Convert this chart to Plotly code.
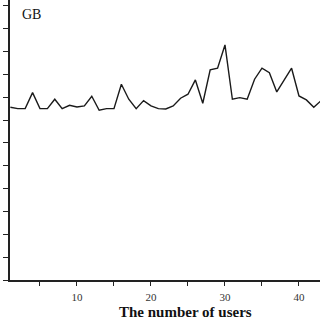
import plotly.graph_objects as go

users = list(range(1, 44))
gb_pix = [107.3, 108.7, 108.7, 92.7, 108.7, 108.7, 99.3, 108.7, 105.3, 107.0,
          106.0, 96.3, 110.3, 108.7, 108.7, 84.3, 99.3, 108.7, 100.7, 106.0,
          108.7, 109.0, 106.0, 98.3, 94.3, 80.0, 103.3, 70.0, 68.3, 45.0,
          99.3, 97.7, 99.3, 79.3, 68.3, 72.7, 92.0, 80.0, 68.3, 96.0,
          100.0, 107.3, 100.7]
# values in axis units (12 intervals on the y axis)
gb = [round((280 - p) / 22.83, 3) for p in gb_pix]

x_ticks = [10, 20, 30, 40]

fig = go.Figure()
fig.add_trace(go.Scatter(x=users, y=gb, mode="lines",
                         line=dict(color="#1a1a1a", width=1.4),
                         showlegend=False, cliponaxis=True))

fig.update_layout(
    width=320, height=320,
    margin=dict(l=10, r=0, t=0, b=40),
    paper_bgcolor="white", plot_bgcolor="white",
    font=dict(family="Liberation Serif, Times New Roman, serif", color="#222"),
    xaxis=dict(range=[0.95, 42.84], tickvals=x_ticks, ticks="outside", ticklen=4,
               tickwidth=1.2, tickcolor="#222",
               minor=dict(tickvals=[5, 15, 25, 35], ticks="outside", ticklen=4,
                          tickwidth=1.2, tickcolor="#222"),
               showline=True, linecolor="#222", linewidth=1.5,
               showgrid=False, zeroline=False,
               tickfont=dict(size=11, color="#333"), ticklabelstandoff=2),
    yaxis=dict(range=[0, 12.26], dtick=1, tick0=0, ticks="outside", ticklen=5,
               tickwidth=1.2, tickcolor="#222", showticklabels=False,
               showline=True, linecolor="#222", linewidth=1.5,
               showgrid=False, zeroline=False),
    annotations=[
        dict(text="<b>The number of users</b>", x=0.565, y=-0.113, xref="paper", yref="paper",
             xanchor="center", yanchor="middle", showarrow=False,
             font=dict(size=15, color="#111", family="Liberation Serif, serif")),
        dict(text="GB", x=0.07, y=0.95, xref="paper", yref="paper",
             xanchor="center", yanchor="middle", showarrow=False,
             font=dict(size=14, color="#111", family="Liberation Serif, serif")),
    ],
)

fig.write_html("out.html")
